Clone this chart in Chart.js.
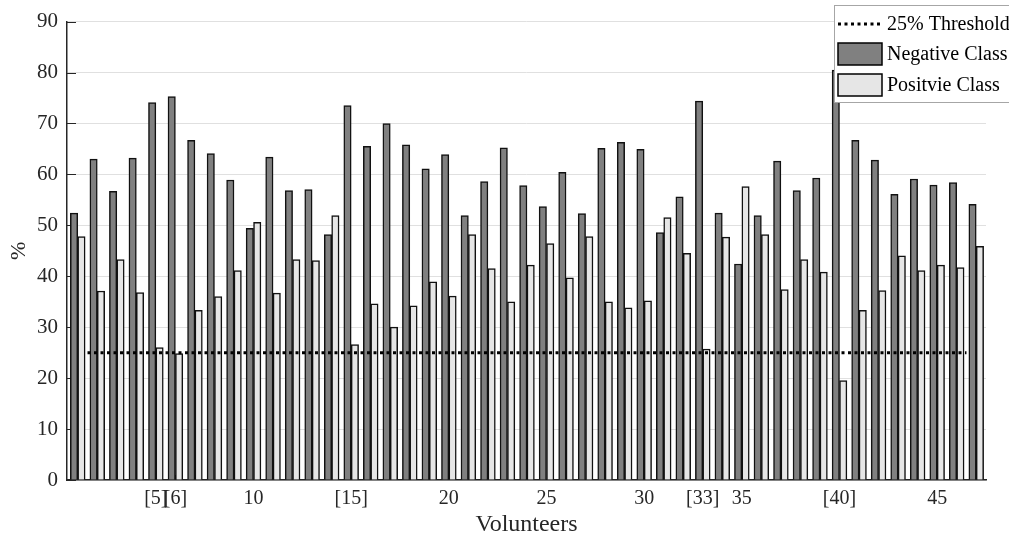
<!DOCTYPE html>
<html>
<head>
<meta charset="utf-8">
<script src="https://cdn.jsdelivr.net/npm/chart.js@4.4.1/dist/chart.umd.min.js"></script>
<style>
  html, body { margin: 0; padding: 0; background: #fff; }
  #wrap { width: 1009px; height: 540px; }
</style>
</head>
<body>
<div id="wrap"><canvas id="chart" width="1009" height="540"></canvas></div>
<script>
// 참가자 번호 (1..47)
var volunteers = [
  1, 2, 3, 4, 5, 6, 7, 8, 9, 10,
  11, 12, 13, 14, 15, 16, 17, 18, 19, 20,
  21, 22, 23, 24, 25, 26, 27, 28, 29, 30,
  31, 32, 33, 34, 35, 36, 37, 38, 39, 40,
  41, 42, 43, 44, 45, 46, 47
];

// Negative Class (%)
var negativeClass = [
  52.4, 63.0, 56.7, 63.2, 74.1, 75.3, 66.7, 64.1, 58.9, 49.4,
  63.4, 56.8, 57.0, 48.2, 73.5, 65.5, 70.0, 65.8, 61.1, 63.9,
  51.9, 58.6, 65.2, 57.8, 53.7, 60.4, 52.3, 65.1, 66.3, 64.9,
  48.6, 55.6, 74.4, 52.4, 42.4, 51.9, 62.6, 56.8, 59.3, 80.5,
  66.7, 62.8, 56.1, 59.1, 57.9, 58.4, 54.1
];

// Positive Class (%)
var positiveClass = [
  47.8, 37.1, 43.3, 36.8, 26.0, 24.8, 33.3, 36.0, 41.1, 50.6,
  36.7, 43.3, 43.1, 51.9, 26.6, 34.6, 30.0, 34.2, 38.9, 36.1,
  48.2, 41.5, 35.0, 42.2, 46.4, 39.7, 47.8, 35.0, 33.8, 35.2,
  51.5, 44.5, 25.7, 47.7, 57.6, 48.2, 37.4, 43.3, 40.8, 19.5,
  33.3, 37.2, 44.0, 41.1, 42.2, 41.7, 45.9
];

// 25% 기준선 (x 범위는 참가자 번호 단위)
var threshold = 25;
var thresholdFrom = 1.5;
var thresholdTo = 46.5;

// x축에 표시되는 눈금
var xTickVolunteers = [5, 6, 10, 15, 20, 25, 30, 33, 35, 40, 45];
var xTickText = ["[5]", "[6]", "10", "[15]", "20", "25", "30", "[33]", "35", "[40]", "45"];

// y축 눈금
var yMin = 0;
var yMax = 90;
var yStep = 10;

var serif = "'Liberation Serif', 'DejaVu Serif', serif";
var axisColor = "#262626";

function toPoints(values) {
  return values.map(function (v, i) {
    return { x: volunteers[i], y: v };
  });
}

// 안쪽 눈금 표시
var innerTicks = {
  id: "innerTicks",
  beforeDatasetsDraw: function (chart) {
    var ctx = chart.ctx;
    var area = chart.chartArea;
    var y = chart.scales.y;
    var x = chart.scales.x;
    ctx.save();
    ctx.strokeStyle = axisColor;
    ctx.lineWidth = 1;
    y.ticks.forEach(function (t, i) {
      var py = Math.round(y.getPixelForTick(i)) + 0.5;
      ctx.beginPath();
      ctx.moveTo(area.left, py);
      ctx.lineTo(area.left + 9, py);
      ctx.stroke();
    });
    xTickVolunteers.forEach(function (v) {
      var px = Math.round(x.getPixelForValue(v)) + 0.5;
      ctx.beginPath();
      ctx.moveTo(px, area.bottom);
      ctx.lineTo(px, area.bottom - 5);
      ctx.stroke();
    });
    ctx.restore();
  }
};

// 범례 (오른쪽 위, 잘린 상자)
var boxLegend = {
  id: "boxLegend",
  afterDraw: function (chart) {
    var ctx = chart.ctx;
    var ds = chart.data.datasets;
    var left = 834, top = 5, w = 190, h = 97;
    ctx.save();
    ctx.fillStyle = "#fff";
    ctx.fillRect(left, top, w, h);
    ctx.strokeStyle = "#a6a6a6";
    ctx.lineWidth = 1;
    ctx.strokeRect(left + 0.5, top + 0.5, w, h);

    ctx.font = "20px " + serif;
    ctx.textBaseline = "middle";
    ctx.fillStyle = "#000";

    // 기준선 항목
    var rowY = [24, 54, 85];
    ctx.strokeStyle = "#000";
    ctx.lineWidth = 3;
    ctx.setLineDash([3, 3.5]);
    ctx.beginPath();
    ctx.moveTo(838, rowY[0]);
    ctx.lineTo(883, rowY[0]);
    ctx.stroke();
    ctx.setLineDash([]);
    ctx.fillText(ds[2].label, 887, rowY[0] + 1);

    // 막대 항목
    [0, 1].forEach(function (k) {
      var cy = rowY[k + 1];
      ctx.fillStyle = ds[k].backgroundColor;
      ctx.fillRect(838, cy - 11, 44, 22);
      ctx.strokeStyle = "#000";
      ctx.lineWidth = 1.5;
      ctx.strokeRect(838, cy - 11, 44, 22);
      ctx.fillStyle = "#000";
      ctx.fillText(ds[k].label, 887, cy + 1);
    });
    ctx.restore();
  }
};

var ctx = document.getElementById("chart").getContext("2d");
var chart = new Chart(ctx, {
  type: "bar",
  data: {
    datasets: [
      {
        label: "Negative Class",
        data: toPoints(negativeClass),
        backgroundColor: "#808080",
        borderColor: "#111",
        borderWidth: 1.5,
        barThickness: 7.4,
        order: 1
      },
      {
        label: "Positvie Class",
        data: toPoints(positiveClass),
        backgroundColor: "#e6e6e6",
        borderColor: "#111",
        borderWidth: 1.5,
        barThickness: 7.4,
        order: 1
      },
      {
        type: "line",
        label: "25% Threshold",
        data: [
          { x: thresholdFrom, y: threshold },
          { x: thresholdTo, y: threshold }
        ],
        borderColor: "#000",
        borderWidth: 3,
        borderDash: [3, 3.5],
        pointRadius: 0,
        fill: false,
        order: 0
      }
    ]
  },
  options: {
    responsive: false,
    animation: false,
    layout: { padding: { top: 18, right: 23, left: 0, bottom: 0 } },
    plugins: {
      legend: { display: false },
      tooltip: { enabled: false }
    },
    scales: {
      x: {
        type: "linear",
        min: 0.45,
        max: volunteers.length + 0.5,
        offset: false,
        grid: { display: false, drawTicks: false },
        border: { display: true, color: axisColor, width: 1.5 },
        afterBuildTicks: function (scale) {
          scale.ticks = xTickVolunteers.map(function (v) { return { value: v }; });
        },
        ticks: {
          autoSkip: false,
          maxRotation: 0,
          padding: 7,
          color: axisColor,
          font: { family: serif, size: 20 },
          callback: function (val) {
            var pos = xTickVolunteers.indexOf(val);
            return pos >= 0 ? xTickText[pos] : "";
          }
        },
        title: {
          display: true,
          text: "Volunteers",
          color: axisColor,
          font: { family: serif, size: 24 },
          padding: { top: 1, bottom: 1 }
        },
        afterFit: function (scale) { scale.height = 60; }
      },
      y: {
        min: yMin,
        max: yMax,
        ticks: {
          stepSize: yStep,
          padding: 9,
          color: axisColor,
          font: { family: serif, size: 21 }
        },
        grid: { color: "#e0e0e0", lineWidth: 1, drawTicks: false },
        border: { display: true, color: axisColor, width: 1.5 },
        title: {
          display: true,
          text: "%",
          color: axisColor,
          font: { family: serif, size: 22 },
          padding: { top: 6, bottom: 0 }
        },
        afterFit: function (scale) { scale.width = 67; }
      }
    }
  },
  plugins: [innerTicks, boxLegend]
});
</script>
</body>
</html>
